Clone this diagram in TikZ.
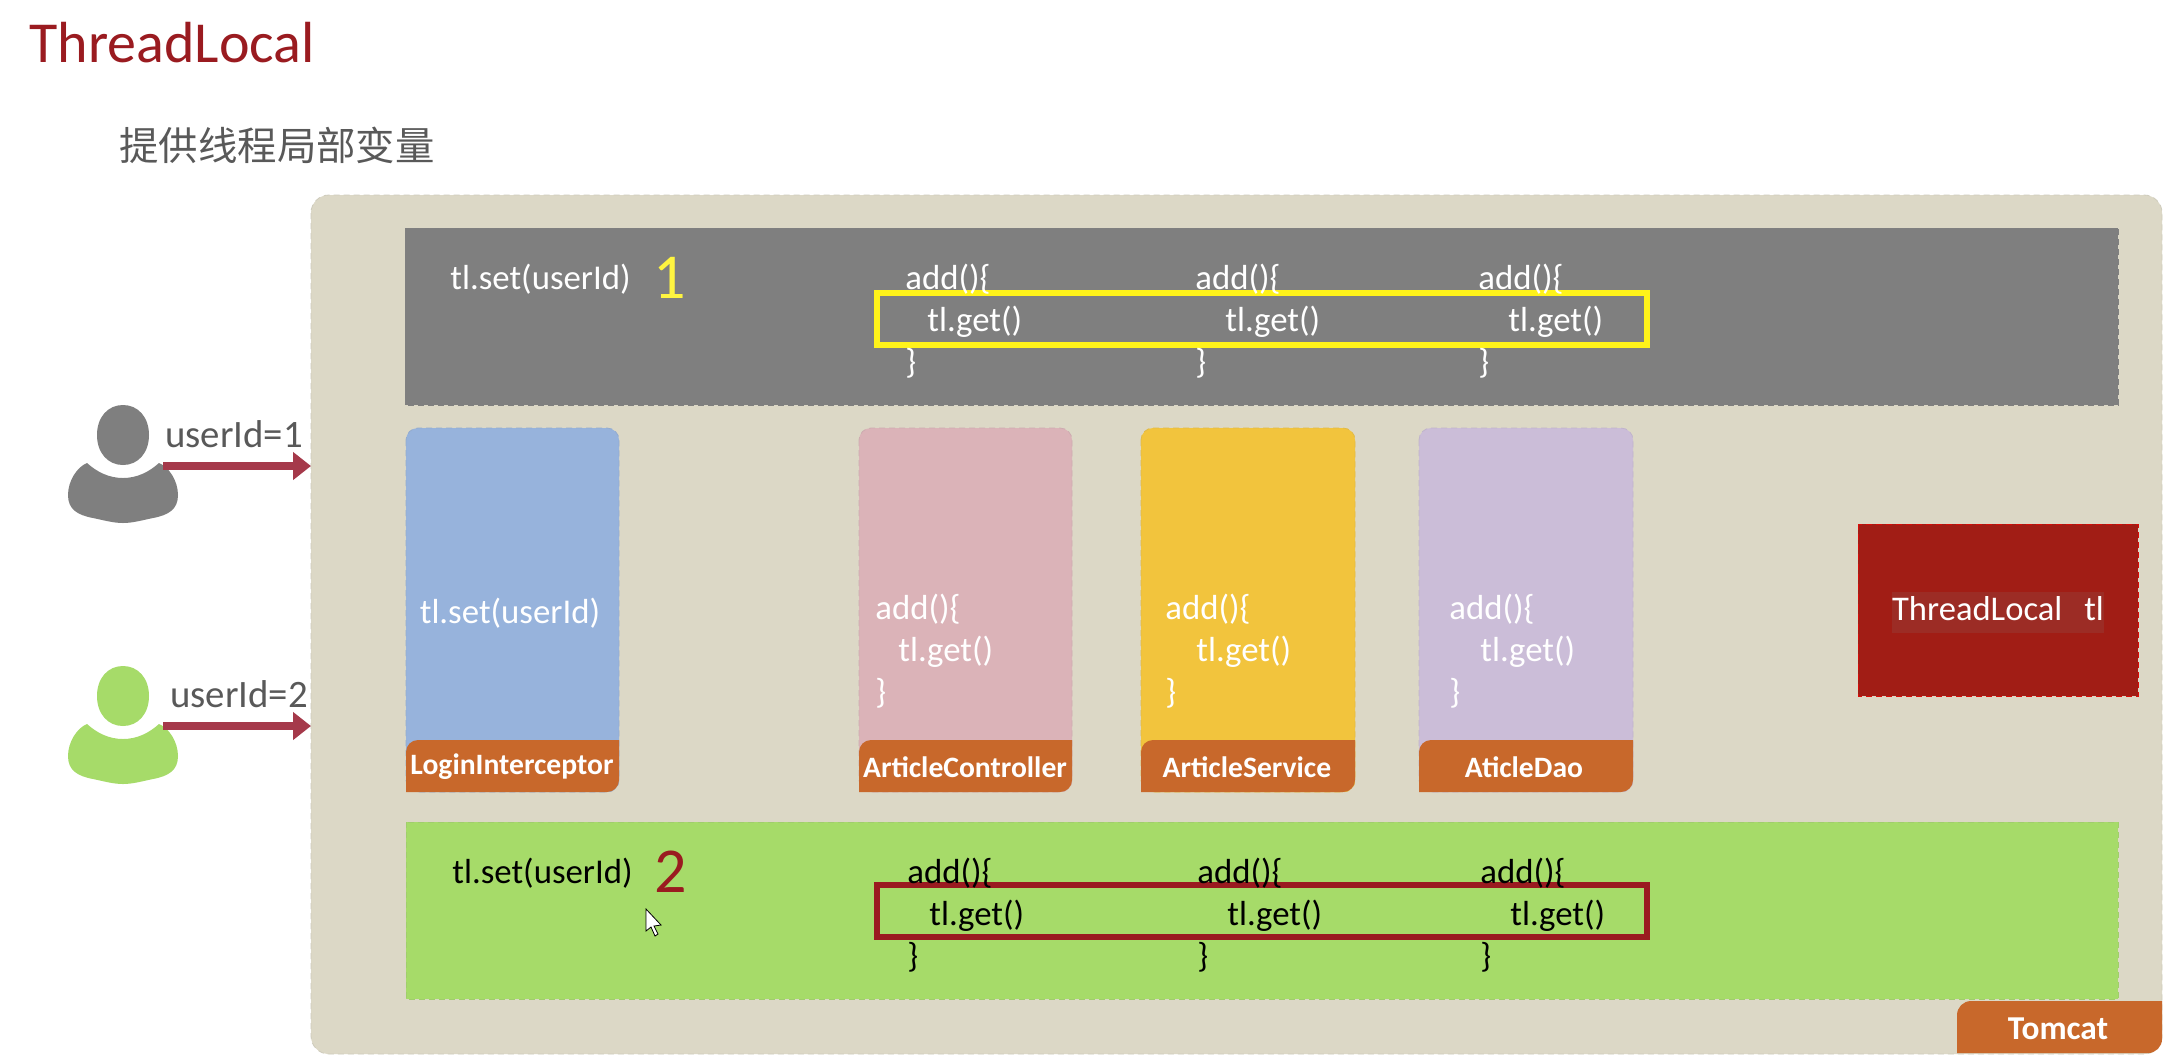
\documentclass[tikz,border=0pt]{standalone}
\usepackage{fontspec}
\setmainfont{Carlito}
\newfontfamily\cjk{Noto Sans CJK SC}
\usetikzlibrary{arrows.meta}
\definecolor{tomcatbg}{HTML}{DCD8C6}
\definecolor{panelgray}{HTML}{7F7F7F}
\definecolor{panelgreen}{HTML}{A6DB69}
\definecolor{cardblue}{HTML}{97B3DC}
\definecolor{cardpink}{HTML}{DBB3B8}
\definecolor{cardyellow}{HTML}{F2C43D}
\definecolor{cardpurple}{HTML}{CBBDD8}
\definecolor{tagorange}{HTML}{C8682B}
\definecolor{tlred}{HTML}{A11D15}
\definecolor{titlered}{HTML}{9A1B20}
\definecolor{flowred}{HTML}{A5394A}
\definecolor{textgray}{HTML}{595959}
\tikzset{
  code/.style={inner sep=0pt, anchor=north west, align=left, font=\fontsize{17.4}{21}\selectfont},
  tagtext/.style={inner sep=0pt, text=white, font=\fontsize{14.8}{17}\selectfont\bfseries},
  usertext/.style={inner sep=0pt, text=textgray, font=\fontsize{19.4}{22}\selectfont},
  flow/.style={line width=4pt, flowred, -{Triangle[length=9pt, width=13.5pt]}},
  panel/.style={densely dashed, line width=0.4pt},
  person/.pic={
    \fill[pic actions] (0,-30) .. controls (15,-30) and (26,-18) .. (26,0)
      .. controls (26,18) and (15,30) .. (0,30)
      .. controls (-15,30) and (-26,18) .. (-26,0)
      .. controls (-26,-18) and (-15,-30) .. (0,-30) -- cycle;
    \fill[pic actions] (-36,28) .. controls (-26,37) and (-14,43) .. (0,43)
      .. controls (14,43) and (26,37) .. (36,28)
      .. controls (46,32) and (55,46) .. (55,60)
      .. controls (55,74) and (46,80) .. (30,83)
      .. controls (20,85) and (10,88) .. (0,88)
      .. controls (-10,88) and (-20,85) .. (-30,83)
      .. controls (-46,80) and (-55,74) .. (-55,60)
      .. controls (-55,46) and (-46,32) .. (-36,28) -- cycle;
  }
}
\begin{document}
\begin{tikzpicture}[x=0.5pt, y=-0.5pt]
  \useasboundingbox (0,0) rectangle (2166,1062);
  \fill[white] (0,0) rectangle (2166,1062);

  \coordinate (U1) at (163,466);
  \coordinate (U2) at (163,726);
  \coordinate (T1) at (311,466);
  \coordinate (T2) at (311,726);

  \node[anchor=west, inner sep=0pt, text=titlered, font=\fontsize{29}{32}\selectfont] (title) at (29,43) {ThreadLocal};
  \node[anchor=west, inner sep=0pt, text=textgray, font=\fontsize{19.7}{24}\selectfont\cjk] (subtitle) at (119,145) {提供线程局部变量};

  % container
  \filldraw[fill=tomcatbg, draw=tomcatbg!85!gray, panel, rounded corners=9pt] (311,195) rectangle (2162,1054);
  \fill[tagorange] (1957,1053) [rounded corners=7pt] -- (1957,1001) [sharp corners] -- (2162,1001) [rounded corners=7pt] -- (2162,1053) [sharp corners] -- cycle;
  \node[tagtext, font=\fontsize{16.7}{19}\selectfont\bfseries] (tomcat) at (2058,1029) {Tomcat};

  % users
  \pic[fill=panelgray] at (123,435) {person};
  \pic[fill=panelgreen] at (123,696) {person};
  \draw[flow] (U1) -- (T1);
  \draw[flow] (U2) -- (T2);
  \node[usertext, anchor=west] (user1) at (165,434) {userId=1};
  \node[usertext, anchor=west] (user2) at (170,694) {userId=2};

  % thread 1
  \filldraw[fill=panelgray, draw=gray, panel] (405,228) rectangle (2118,405);
  \node[code, text=white, anchor=west] (set1) at (450,279) {tl.set(userId)};
  \node[inner sep=0pt, text=yellow!75!white, font=\fontsize{32}{36}\selectfont] (num1) at (670,278) {1};
  \draw[line width=3pt, yellow!90!white] (877,293) rectangle (1647,345);
  \node[code, text=white] (add1) at (905,264) {add()\{\\\hspace*{11pt}tl.get()\\\}};
  \node[code, text=white] (add2) at (1195,264) {add()\{\\\hspace*{15pt}tl.get()\\\}};
  \node[code, text=white] (add3) at (1478,264) {add()\{\\\hspace*{15pt}tl.get()\\\}};

  % cards
  \filldraw[fill=cardblue, draw=cardblue!85!gray, panel, rounded corners=6pt] (406,428) rectangle (619,792);
  \filldraw[fill=cardpink, draw=cardpink!85!gray, panel, rounded corners=6pt] (859,428) rectangle (1072,792);
  \filldraw[fill=cardyellow, draw=cardyellow!85!gray, panel, rounded corners=6pt] (1141,428) rectangle (1355,792);
  \filldraw[fill=cardpurple, draw=cardpurple!85!gray, panel, rounded corners=6pt] (1419,428) rectangle (1633,792);
  \fill[tagorange] (406,792) [rounded corners=6pt] -- (406,740) [sharp corners] -- (619,740) [rounded corners=6pt] -- (619,792) [sharp corners] -- cycle;
  \fill[tagorange] (859,792) [rounded corners=6pt] -- (859,740) [sharp corners] -- (1072,740) [rounded corners=6pt] -- (1072,792) [sharp corners] -- cycle;
  \fill[tagorange] (1141,792) [rounded corners=6pt] -- (1141,740) [sharp corners] -- (1355,740) [rounded corners=6pt] -- (1355,792) [sharp corners] -- cycle;
  \fill[tagorange] (1419,792) [rounded corners=6pt] -- (1419,740) [sharp corners] -- (1633,740) [rounded corners=6pt] -- (1633,792) [sharp corners] -- cycle;
  \node[tagtext] (login) at (512,767) {LoginInterceptor};
  \node[tagtext] (controller) at (965,767) {ArticleController};
  \node[tagtext] (service) at (1247,767) {ArticleService};
  \node[tagtext] (dao) at (1524,767) {AticleDao};
  \node[code, text=white, anchor=center] (setcard) at (510,613) {tl.set(userId)};
  \node[code, text=white] (addpink) at (875,594) {add()\{\\\hspace*{11.5pt}tl.get()\\\}};
  \node[code, text=white] (addyellow) at (1165,594) {add()\{\\\hspace*{15.5pt}tl.get()\\\}};
  \node[code, text=white] (addpurple) at (1449,594) {add()\{\\\hspace*{15.5pt}tl.get()\\\}};

  % threadlocal
  \filldraw[fill=tlred, draw=red!60!tlred, panel] (1858,524) rectangle (2138,696);
  \node[code, anchor=center, fill=tlred!85!gray, text=white, text height=14.5pt, text depth=6pt, font=\fontsize{17.3}{20}\selectfont] (tl) at (1998,612) {ThreadLocal\hspace*{11pt}tl};

  % thread 2
  \filldraw[fill=panelgreen, draw=panelgreen!85!gray, panel] (406,822) rectangle (2118,999);
  \node[code, anchor=west] (set2) at (452,873) {tl.set(userId)};
  \node[inner sep=0pt, text=titlered, font=\fontsize{32}{36}\selectfont] (num2) at (671,872) {2};
  \draw[line width=3pt, titlered] (877,885) rectangle (1647,937);
  \node[code] (add4) at (907,858) {add()\{\\\hspace*{11pt}tl.get()\\\}};
  \node[code] (add5) at (1197,858) {add()\{\\\hspace*{15pt}tl.get()\\\}};
  \node[code] (add6) at (1480,858) {add()\{\\\hspace*{15pt}tl.get()\\\}};

  % cursor
  \filldraw[fill=white, draw=black, line width=0.4pt] (646,909) -- (646,931) -- (651,927) -- (655,936) -- (658,934) -- (654,926) -- (661,925) -- cycle;
\end{tikzpicture}
\end{document}
